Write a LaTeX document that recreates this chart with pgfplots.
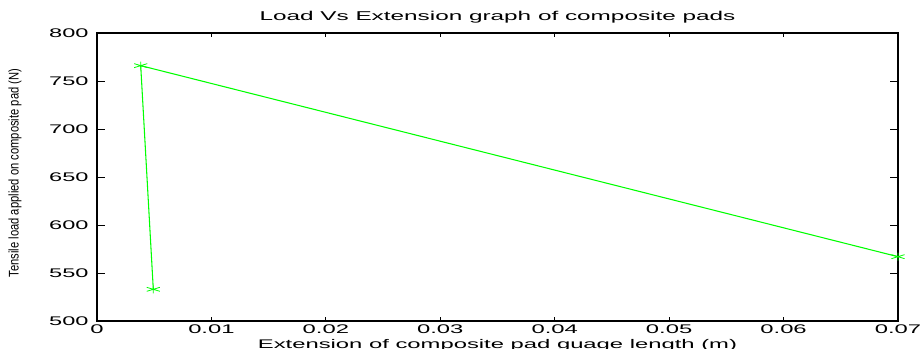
\documentclass[border=0pt]{standalone}
\usepackage{fontspec}
\setmainfont{Liberation Sans}
\usepackage{graphicx}
\usepackage{pgfplots}
\pgfplotsset{compat=1.18}
\definecolor{mgreen}{RGB}{0,255,0}
\begin{document}
\begin{tikzpicture}
\path[use as bounding box] (-72.75pt,-21pt) rectangle (618pt,240.75pt);
\begin{axis}[
  at={(0,0)}, anchor=south west,
  scale only axis, width=600.75pt, height=216pt,
  xmin=0, xmax=0.07, ymin=500, ymax=800,
  xtick={0,0.01,0.02,0.03,0.04,0.05,0.06,0.07},
  xticklabels={0,0.01,0.02,0.03,0.04,0.05,0.06,0.07},
  ytick={500,550,600,650,700,750,800},
  scaled x ticks=false, scaled y ticks=false,
  /pgf/number format/assume math mode=true,
  tick align=inside,
  axis line style={black, line width=0.9pt},
  xtick style={black, line width=0.6pt, /pgfplots/major tick length=3pt},
  ytick style={black, line width=0.6pt, /pgfplots/major tick length=6pt},
  tick label style={font=\fontsize{9.4}{11}\selectfont, inner sep=0pt},
  xticklabel style={anchor=base, yshift=-9.2pt, xscale=1.9},
  yticklabel style={anchor=east, xshift=-6pt, xscale=1.88},
  title={Load Vs Extension graph of composite pads},
  title style={font=\fontsize{9.6}{11}\selectfont, at={(axis description cs:0.5,1)}, anchor=base, yshift=3.75pt, inner sep=0pt, xscale=1.9},
  xlabel={Extension of composite pad guage length (m)},
  xlabel style={font=\fontsize{9.4}{11}\selectfont, at={(axis description cs:0.5,0)}, anchor=base, yshift=-20.5pt, inner sep=0pt, xscale=1.9},
  ylabel={\scalebox{0.8}[1]{Tensile load applied on composite pad (N)}},
  ylabel style={font=\fontsize{10.5}{12}\selectfont, at={(axis description cs:-0.1024,0.514)}, anchor=center, inner sep=0pt},
]
\addplot[color=mgreen, line width=0.8pt, mark=asterisk, mark size=3pt, mark options={xscale=1.9, line width=0.6pt}]
  coordinates {(0.00492,533) (0.00382,766) (0.0700,567)};
\end{axis}
\end{tikzpicture}
\end{document}
